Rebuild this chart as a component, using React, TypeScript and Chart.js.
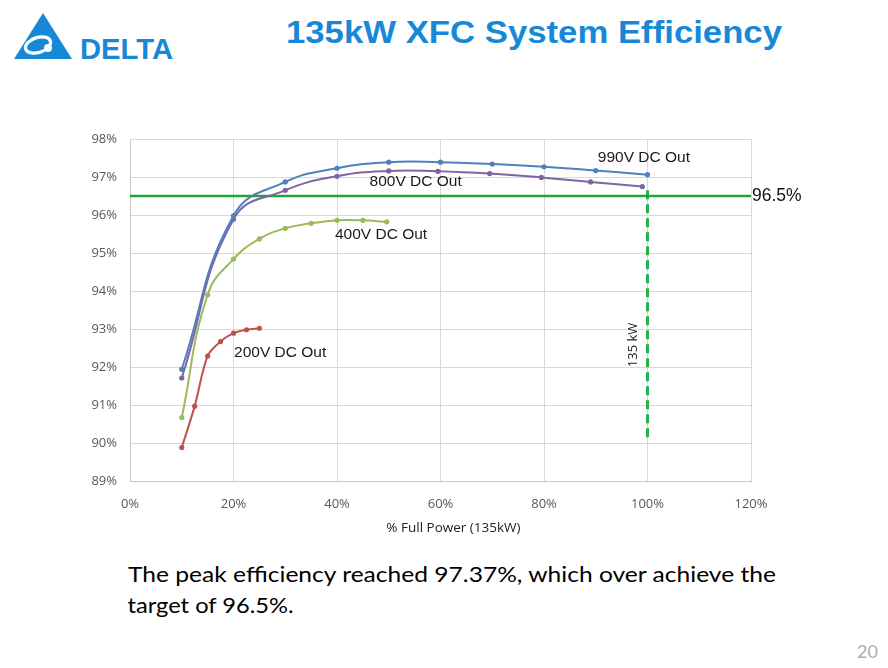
import React, { useEffect, useRef } from "react";
import { Chart, registerables } from "chart.js";

Chart.register(...registerables);

// ---- data ----
const load990 = [10, 20, 30, 40, 50, 60, 70, 80, 90, 100];
const eff990 = [91.94, 95.98, 96.87, 97.23, 97.39, 97.39, 97.34, 97.27, 97.17, 97.06];

const load800 = [10, 20, 30, 40, 50, 59.5, 69.5, 79.5, 89, 99];
const eff800 = [91.71, 95.89, 96.65, 97.02, 97.16, 97.15, 97.09, 96.99, 96.87, 96.75];

const load400 = [10, 15, 20, 25, 30, 35, 40, 45, 49.6];
const eff400 = [90.67, 93.9, 94.84, 95.37, 95.65, 95.78, 95.86, 95.86, 95.82];

const load200 = [10, 12.5, 15, 17.5, 20, 22.5, 25];
const eff200 = [89.88, 90.97, 92.29, 92.67, 92.89, 92.98, 93.02];

const targetEff = 96.5;
const targetSpan = [0, 120];
const ratedLoad = 100;
const ratedSpan = [96.65, 90.12];

const xTicks = [0, 20, 40, 60, 80, 100, 120];
const yTicks = [89, 90, 91, 92, 93, 94, 95, 96, 97, 98];

const seriesNames = ["990V DC Out", "800V DC Out", "400V DC Out", "200V DC Out"];
const seriesColors = ["#4F81BD", "#8064A2", "#9BBB59", "#C0504D"];
const labelAnchors = [
  { x: 90.4, y: 97.5 },
  { x: 46.3, y: 96.87 },
  { x: 39.6, y: 95.47 },
  { x: 20.1, y: 92.37 },
];

const toPts = (xs: number[], ys: number[]) => xs.map((x, i) => ({ x, y: ys[i] }));

const annotPlugin = {
  id: "annot",
  afterDatasetsDraw(chart: any) {
    const { ctx, chartArea, scales } = chart;
    const xs = scales.x;
    const ys = scales.y;
    ctx.save();
    // series labels
    ctx.fillStyle = "#1a1a1a";
    ctx.font = '15.5px "Liberation Sans", Arial, sans-serif';
    ctx.textAlign = "left";
    ctx.textBaseline = "middle";
    seriesNames.forEach((n, i) => {
      ctx.fillText(n, xs.getPixelForValue(labelAnchors[i].x), ys.getPixelForValue(labelAnchors[i].y));
    });
    // target label
    ctx.fillStyle = "#111";
    ctx.font = '17.5px "Liberation Sans", Arial, sans-serif';
    ctx.fillText(targetEff + "%", chartArea.right + 1, ys.getPixelForValue(targetEff) + 0.5);
    // rated label, rotated
    ctx.save();
    ctx.translate(xs.getPixelForValue(97.2), ys.getPixelForValue(92.58));
    ctx.rotate(-Math.PI / 2);
    ctx.textAlign = "center";
    ctx.fillStyle = "#222";
    ctx.font = '13px "Open Sans", sans-serif';
    ctx.fillText("135 kW", 0, 0);
    ctx.restore();
    // axis title
    ctx.textAlign = "center";
    ctx.fillStyle = "#222";
    ctx.font = '13.5px "Open Sans", sans-serif';
    ctx.fillText("% Full Power (135kW)", xs.getPixelForValue(62.5), chartArea.bottom + 47);
    ctx.restore();
  },
};

function EfficiencyChart() {
  const ref = useRef<HTMLCanvasElement | null>(null);
  useEffect(() => {
    if (!ref.current) return;
    const seriesData = [
      toPts(load990, eff990),
      toPts(load800, eff800),
      toPts(load400, eff400),
      toPts(load200, eff200),
    ];
    const chart = new Chart(ref.current, {
      type: "line",
      data: {
        datasets: [
          ...seriesData.map((d, i) => ({
            label: seriesNames[i],
            data: d,
            borderColor: seriesColors[i],
            backgroundColor: seriesColors[i],
            borderWidth: 2,
            pointRadius: 2.6,
            pointBorderWidth: 0,
            pointBackgroundColor: seriesColors[i],
            tension: i === 3 ? 0.3 : 0.45,
            fill: false,
            order: 1,
          })),
          {
            label: "target",
            data: targetSpan.map((x) => ({ x, y: targetEff })),
            borderColor: "#1FA535",
            borderWidth: 2.6,
            pointRadius: 0,
            tension: 0,
            order: 2,
          },
          {
            label: "rated",
            data: ratedSpan.map((y) => ({ x: ratedLoad, y })),
            borderColor: "#22B14C",
            borderWidth: 3,
            borderDash: [9, 5],
            pointRadius: 0,
            tension: 0,
            order: 2,
          },
        ],
      },
      options: {
        animation: false,
        responsive: false,
        devicePixelRatio: 1,
        layout: { padding: { left: 80, right: 137, top: 139, bottom: 147 } },
        plugins: { legend: { display: false }, tooltip: { enabled: false }, title: { display: false } },
        scales: {
          x: {
            type: "linear",
            min: 0,
            max: 120,
            afterFit: (s: any) => {
              s.height = 40;
            },
            afterBuildTicks: (s: any) => {
              s.ticks = xTicks.map((v) => ({ value: v }));
            },
            grid: { color: "#d9d9d9", lineWidth: 1, drawTicks: false },
            border: { color: "#c8c8c8" },
            ticks: {
              padding: 15,
              color: "#595959",
              font: { family: '"Open Sans", sans-serif', size: 13 },
              callback: (v: any) => v + "%",
            },
          },
          y: {
            min: 89,
            max: 98,
            afterFit: (s: any) => {
              s.width = 50;
            },
            afterBuildTicks: (s: any) => {
              s.ticks = yTicks.map((v) => ({ value: v }));
            },
            grid: { color: "#d9d9d9", lineWidth: 1, drawTicks: false },
            border: { color: "#c8c8c8" },
            ticks: {
              padding: 13,
              color: "#595959",
              font: { family: '"Open Sans", sans-serif', size: 13 },
              callback: (v: any) => v + "%",
            },
          },
        },
      },
      plugins: [annotPlugin],
    } as any);
    return () => chart.destroy();
  }, []);
  return (
    <canvas
      ref={ref}
      width={888}
      height={668}
      style={{ position: "absolute", left: 0, top: 0, width: 888, height: 668 }}
    />
  );
}

export default function App() {
  const blue = "#1788D8";
  return (
    <div
      style={{
        position: "absolute",
        left: 0,
        top: 0,
        width: 888,
        height: 668,
        background: "#fff",
        overflow: "hidden",
      }}
    >
      <svg width={888} height={668} style={{ position: "absolute", left: 0, top: 0 }}>
        <polygon points="14,59 43,13 72,59" fill={blue} />
        <ellipse cx={38} cy={45} rx={13} ry={7.5} fill="none" stroke="#fff" strokeWidth={3.2} transform="rotate(-18 38 45)" />
        <circle cx={48} cy={48} r={4} fill="#fff" />
        <text
          x={80}
          y={59}
          fill={blue}
          fontFamily='"Liberation Sans", Arial, sans-serif'
          fontWeight="bold"
          fontSize={30}
          textLength={93}
          lengthAdjust="spacingAndGlyphs"
        >
          DELTA
        </text>
        <text
          x={286}
          y={43.3}
          fill={blue}
          fontFamily='"Liberation Sans", Arial, sans-serif'
          fontWeight="bold"
          fontSize={30.5}
          textLength={496}
          lengthAdjust="spacingAndGlyphs"
        >
          135kW XFC System Efficiency
        </text>
        <text
          x={128}
          y={581.7}
          fill="#000"
          fontFamily="Lato, sans-serif"
          fontSize={22}
          textLength={648}
          lengthAdjust="spacingAndGlyphs"
        >
          The peak efficiency reached 97.37%, which over achieve the
        </text>
        <text
          x={127.5}
          y={612.5}
          fill="#000"
          fontFamily="Lato, sans-serif"
          fontSize={22}
          textLength={166}
          lengthAdjust="spacingAndGlyphs"
        >
          target of 96.5%.
        </text>
        <text x={857} y={658} fill="#AFAFAF" fontFamily="Lato, sans-serif" fontSize={18}>
          20
        </text>
      </svg>
      <EfficiencyChart />
    </div>
  );
}
